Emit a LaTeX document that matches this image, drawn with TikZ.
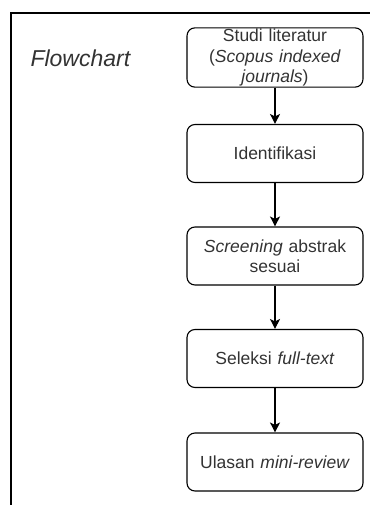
\documentclass[tikz,border=0pt]{standalone}
\usepackage{fontspec}
\setmainfont{Liberation Sans}
\usetikzlibrary{arrows.meta}
\definecolor{txtgray}{HTML}{333333}
\tikzset{
    prosesbox/.style={draw,line width=1.1pt,rounded corners=8pt,minimum width=176pt,minimum height=58pt,
        inner sep=1pt,align=center,text width=170pt,text=txtgray,
        font=\fontsize{17.5}{20.5}\selectfont},
    alur/.style={-{Stealth[length=10pt,width=10pt,inset=2.5pt]},line width=1.1pt}
}
\begin{document}
\begin{tikzpicture}[x=1pt,y=-1pt]
        \useasboundingbox (0,0) rectangle (369,505); %ukuran gambar
        \draw[line width=1.3pt] (11,506)--(11,13)--(370,13); %bingkai
        \node[text=txtgray,font=\fontsize{23}{26}\selectfont\itshape,anchor=base west] (judul) at (27,67) {Flowchart}; %judul
        \node[prosesbox] (studi) at (275,57.5) {Studi literatur\\(\textit{Scopus indexed}\\\textit{journals})};
        \node[prosesbox] (identifikasi) at (275,153.5) {Identifikasi};
        \node[prosesbox] (screening) at (275,256) {\textit{Screening} abstrak\\sesuai};
        \node[prosesbox] (seleksi) at (275,358.5) {Seleksi \textit{full-text}};
        \node[prosesbox] (ulasan) at (275,462) {Ulasan \textit{mini-review}};
        \draw[alur] (studi)--(identifikasi);
        \draw[alur] (identifikasi)--(screening);
        \draw[alur] (screening)--(seleksi);
        \draw[alur] (seleksi)--(ulasan);
    \end{tikzpicture}
\end{document}
